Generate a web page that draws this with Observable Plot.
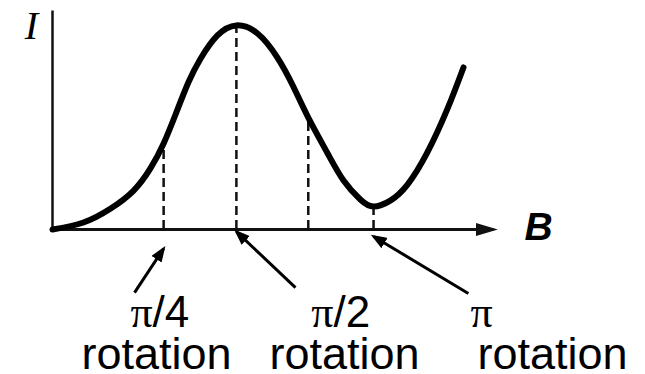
<!DOCTYPE html>
<html>
<head>
<meta charset="utf-8">
<script src="https://cdn.jsdelivr.net/npm/d3@7"></script>
<script src="https://cdn.jsdelivr.net/npm/@observablehq/plot@0.6"></script>
<style>
  html, body { margin: 0; padding: 0; background: #fff; }
  #chart svg { display: block; }
</style>
</head>
<body>
<div id="chart"></div>
<script>
// Transmitted intensity I as the field B is raised (arbitrary units)
const curveB = [0, 0.70, 1.32, 1.84, 2.22, 2.52, 2.79, 3.08, 3.36, 3.74, 4.17, 4.65, 5.10, 5.46, 5.80, 6.24, 6.60, 6.98, 7.28, 7.66, 8.05, 8.50, 8.96, 9.32];
const curveI = [0, 0.32, 0.96, 1.78, 2.79, 3.93, 5.25, 6.71, 7.81, 8.86, 9.32, 8.95, 7.85, 6.53, 5.11, 3.47, 2.24, 1.37, 1.05, 1.32, 2.05, 3.52, 5.53, 7.40];

// Field values with a dashed drop line from the curve
const markedB = [2.52, 4.17, 5.80, 7.28];

// Polarisation rotations and the field value each arrow points at
const rotationAngle = ["π/4", "π/2", "π"];
const rotationWord = ["rotation", "rotation", "rotation"];
const rotationB = [2.52, 4.17, 7.28];

// Axis extents and names
const axisMaxB = 10;
const axisMaxI = 10;
const axisNameB = "B";
const axisNameI = "I";

// ---- layout of the annotations (data units) ----
const arrowTail = [[1.86, -2.88], [5.51, -2.65], [9.43, -2.92]];
const arrowTipY = [-0.87, -0.10, -0.32];
const angleJoinX = [2.27, 6.37, 9.98];
const angleBaseY = -4.47;
const wordX = [2.36, 6.62, 11.34];
const wordBaseY = -6.35;

const curve = curveB.map((b, i) => ({B: b, I: curveI[i]}));
const iAt = (b) => curve.find((d) => d.B === b).I;
const drops = markedB.map((b) => ({B: b, I: iAt(b)}));

const notes = rotationAngle.map((a, i) => ({
  pi: a.slice(0, 1),
  rest: a.slice(1),
  word: rotationWord[i],
  x1: arrowTail[i][0], y1: arrowTail[i][1],
  x2: rotationB[i], y2: arrowTipY[i],
  jx: angleJoinX[i], wx: wordX[i]
}));

// filled triangular arrow head
function head(len, wid, back) {
  return (color) => {
    const ns = "http://www.w3.org/2000/svg";
    const m = document.createElementNS(ns, "marker");
    m.setAttribute("viewBox", "0 -5 10 10");
    m.setAttribute("refX", String(back));
    m.setAttribute("refY", "0");
    m.setAttribute("markerUnits", "userSpaceOnUse");
    m.setAttribute("markerWidth", String(len));
    m.setAttribute("markerHeight", String(wid));
    m.setAttribute("preserveAspectRatio", "none");
    m.setAttribute("orient", "auto");
    const p = document.createElementNS(ns, "path");
    p.setAttribute("d", "M0,-5L10,0L0,5Z");
    p.setAttribute("fill", color);
    p.setAttribute("stroke", "none");
    m.appendChild(p);
    return m;
  };
}

const sans = "'Liberation Sans', Arial, Helvetica, sans-serif";
const serif = "'Liberation Serif', 'Times New Roman', Times, serif";

const chart = Plot.plot({
  width: 645,
  height: 374,
  margin: 0,
  x: {domain: [0, axisMaxB], range: [52, 493], axis: null},
  y: {domain: [0, axisMaxI], range: [229, 10], axis: null},
  style: {background: "#fff", overflow: "visible"},
  marks: [
    // dashed drop lines
    Plot.ruleX(drops, {x: "B", y1: 0, y2: "I", stroke: "#111", strokeWidth: 2.5, strokeDasharray: "9,5"}),
    // axes
    Plot.link([{x1: 0, y1: 0, x2: 0, y2: axisMaxI}], {x1: "x1", y1: "y1", x2: "x2", y2: "y2", stroke: "#111", strokeWidth: 2.5}),
    Plot.link([{x1: 0, y1: 0, x2: axisMaxB, y2: 0}], {x1: "x1", y1: "y1", x2: "x2", y2: "y2", stroke: "#111", strokeWidth: 3, markerEnd: head(22, 13, 8)}),
    // intensity curve
    Plot.line(curve, {x: "B", y: "I", curve: "natural", stroke: "#000", strokeWidth: 6, strokeLinecap: "round", strokeLinejoin: "round"}),
    // annotation arrows
    Plot.link(notes, {x1: "x1", y1: "y1", x2: "x2", y2: "y2", stroke: "#000", strokeWidth: 3, markerEnd: head(16, 12, 8)}),
    // axis names
    Plot.text([axisNameI], {x: -0.48, y: 8.72, text: (d) => d, fontFamily: serif, fontStyle: "italic", fontSize: 40, lineAnchor: "bottom", fill: "#000"}),
    Plot.text([axisNameB], {x: 11.02, y: -0.5, text: (d) => d, fontFamily: sans, fontStyle: "italic", fontWeight: "bold", fontSize: 39, lineAnchor: "bottom", fill: "#000"}),
    // rotation labels: serif pi, sans fraction
    Plot.text(notes, {x: "jx", y: angleBaseY, text: "pi", fontFamily: serif, fontSize: 44, textAnchor: "end", lineAnchor: "bottom", fill: "#000"}),
    Plot.text(notes, {x: "jx", y: angleBaseY, text: "rest", fontFamily: sans, fontSize: 44, textAnchor: "start", lineAnchor: "bottom", fill: "#000"}),
    Plot.text(notes, {x: "wx", y: wordBaseY, text: "word", fontFamily: sans, fontSize: 45, lineAnchor: "bottom", fill: "#000"})
  ]
});

document.getElementById("chart").appendChild(chart);
</script>
</body>
</html>
